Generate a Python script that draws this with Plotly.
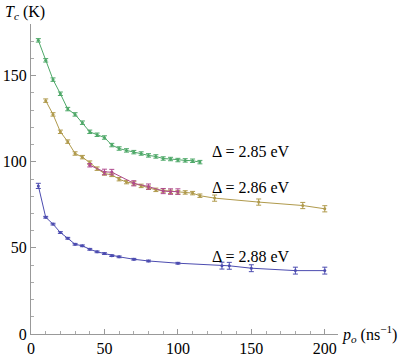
import plotly.graph_objects as go

# Δ = 2.85 eV (green)
green_x = [5, 10, 15, 20, 25, 30, 35, 40, 45, 50, 55, 60, 65, 70, 75, 80, 85, 90, 95, 100, 105, 110, 115]
green_y = [170.5, 158.9, 147.7, 139.5, 130.6, 127.5, 122.7, 117.4, 115.7, 114.1, 109.7, 107.7, 106.6, 105.6,
           104.8, 103.7, 103.1, 101.9, 101.6, 101.0, 100.8, 100.6, 99.8]
green_err = [1.0] * len(green_x)

# Δ = 2.86 eV (gold)
gold_x = [10, 15, 20, 25, 30, 35, 40, 45, 50, 55, 60, 65, 70, 75, 80, 85, 90, 95, 100, 105, 110, 115,
          125, 155, 185, 200]
gold_y = [135.5, 127.5, 117.4, 111.7, 104.8, 102.7, 99.5, 96.0, 93.2, 92.4, 89.9, 88.2, 87.4, 86.0, 84.9,
          83.7, 83.3, 82.6, 82.2, 82.2, 81.8, 80.3, 78.9, 76.6, 74.6, 72.7]
gold_err = [1.0] * 22 + [1.8, 1.8, 1.8, 1.8]

# second run (pink)
pink_x = [40, 50, 55, 70, 80, 90, 95, 100]
pink_y = [98.0, 94.1, 94.0, 87.5, 85.6, 83.0, 82.7, 82.7]
pink_err = [1.0, 1.6, 1.6, 1.5, 1.5, 1.5, 1.6, 1.6]

# Δ = 2.88 eV (blue)
blue_x = [5, 10, 15, 20, 25, 30, 35, 40, 45, 50, 55, 60, 70, 80, 100, 130, 135, 150, 180, 200]
blue_y = [86.0, 67.8, 63.8, 58.9, 55.6, 52.1, 51.2, 49.2, 47.7, 46.7, 45.5, 44.8, 43.4, 42.4, 41.1,
          39.7, 39.6, 38.2, 36.8, 36.8]
blue_err = [1.5] + [0.5] * 14 + [2.0] * 5

labels = ["Δ = 2.85 eV", "Δ = 2.86 eV", "Δ = 2.88 eV"]
label_pos = [(122, 105.8), (122, 84.9), (122, 44.8)]

x_ticks = [0, 50, 100, 150, 200]
y_ticks = [0, 50, 100, 150]

series = [
    (green_x, green_y, green_err, "#4ea868"),
    (gold_x, gold_y, gold_err, "#b09a4c"),
    (pink_x, pink_y, pink_err, "#b04a8e"),
    (blue_x, blue_y, blue_err, "#4c4cb0"),
]

fig = go.Figure()
for xs, ys, es, col in series:
    fig.add_trace(go.Scatter(
        x=xs, y=ys, mode="lines+markers",
        line=dict(color=col, width=1),
        marker=dict(color=col, size=3),
        error_y=dict(type="data", array=es, color=col, thickness=1, width=2.5),
        showlegend=False, hoverinfo="skip",
    ))

font_serif = "Liberation Serif, DejaVu Serif, Noto Serif, Times New Roman, serif"

for txt, (lx, ly) in zip(labels, label_pos):
    fig.add_annotation(x=lx, y=ly, text=txt, showarrow=False, xanchor="left", yanchor="middle",
                       font=dict(family=font_serif, size=16, color="black"))

fig.add_annotation(xref="paper", yref="paper", x=-0.091, y=1.0, xanchor="left", yanchor="bottom",
                   text="<i>T</i><sub><i>c</i></sub> (K)", showarrow=False,
                   font=dict(family=font_serif, size=16, color="black"))
fig.add_annotation(xref="paper", yref="paper", x=1.005, y=0.0, xanchor="left", yanchor="middle",
                   text="<i>p</i><sub><i>o</i></sub> (ns<sup>−1</sup>)", showarrow=False,
                   font=dict(family=font_serif, size=16, color="black"))

axis_common = dict(
    showgrid=False, zeroline=False, showline=True, linecolor="#999999", linewidth=1,
    ticks="inside", ticklen=5, tickcolor="#999999", tickwidth=1, automargin=False,
    tickfont=dict(family=font_serif, size=16, color="black"),
    minor=dict(ticks="inside", ticklen=3, tickcolor="#aaaaaa", dtick=10, showgrid=False),
)

fig.update_xaxes(range=[0, 209], tickvals=x_ticks, ticktext=[str(v) for v in x_ticks], **axis_common)
fig.update_yaxes(range=[0, 180], tickvals=y_ticks, ticktext=[str(v) for v in y_ticks], **axis_common)

fig.update_layout(
    width=415, height=356,
    margin=dict(l=31, r=77, t=24, b=22),
    plot_bgcolor="white", paper_bgcolor="white",
    font=dict(family=font_serif),
)

fig.write_html("out.html", config={"displayModeBar": False},
               post_script="document.body.style.margin='0';")
